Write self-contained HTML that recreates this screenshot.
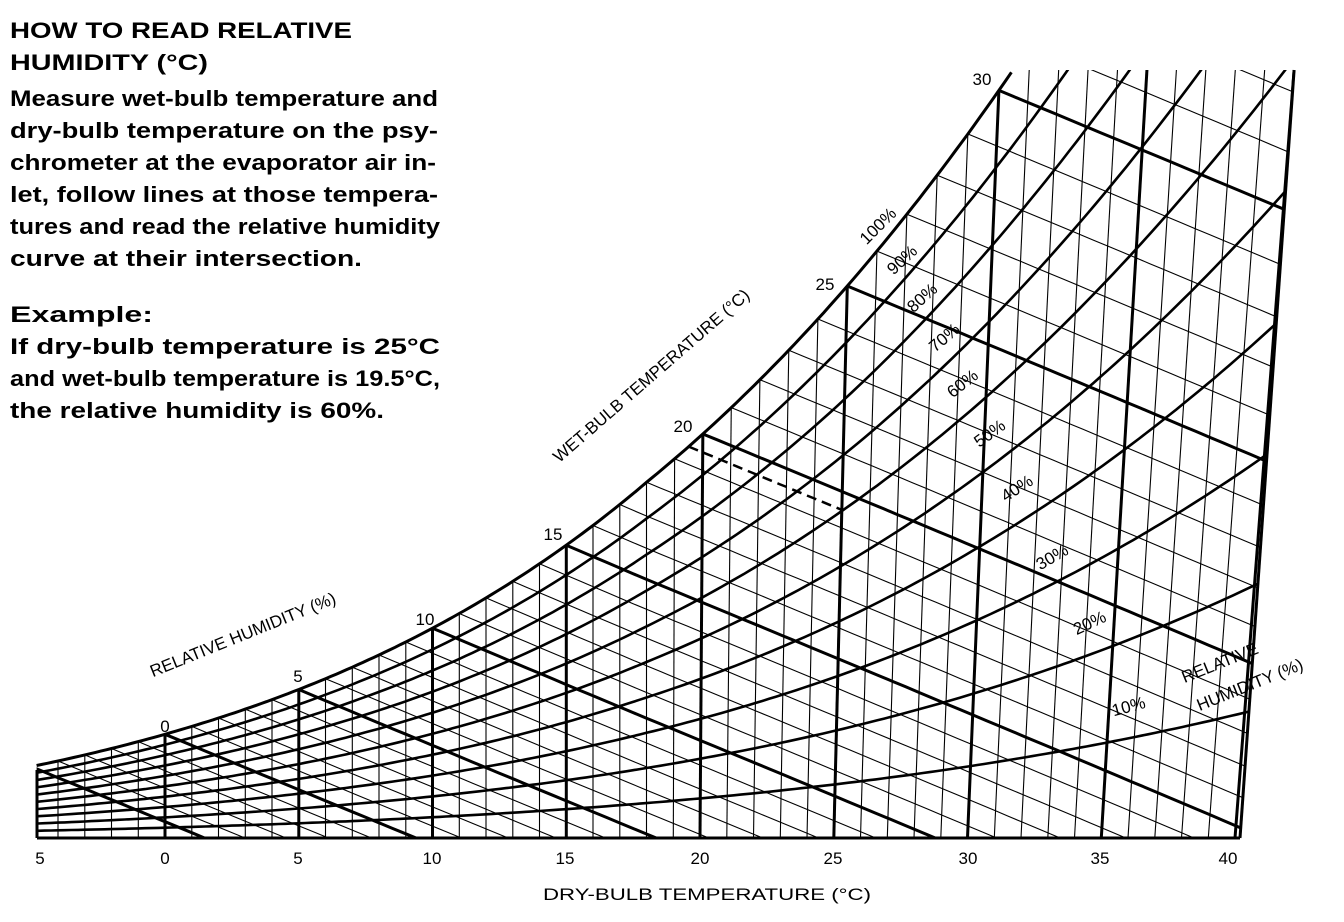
<!DOCTYPE html>
<html><head><meta charset="utf-8"><style>
html,body{margin:0;padding:0;background:#fff;width:1344px;height:922px;overflow:hidden}
svg{display:block}
text{font-family:"Liberation Sans",sans-serif;fill:#000}
.b{font-weight:bold;font-size:22px}
.l{font-size:17px}
</style></head><body>
<svg id="s" width="1344" height="922" viewBox="0 0 1344 922" xmlns="http://www.w3.org/2000/svg">
<defs><clipPath id="cp"><path id="cpp" d=""/></clipPath></defs>
<g id="grid" clip-path="url(#cp)" stroke="#000" fill="none"></g>
<g id="top" stroke="#000" fill="none"></g>
<g class="b">
<text x="10" y="38" textLength="342" lengthAdjust="spacingAndGlyphs">HOW TO READ RELATIVE</text>
<text x="10" y="70" textLength="198" lengthAdjust="spacingAndGlyphs">HUMIDITY (°C)</text>
<text x="10" y="106" textLength="428" lengthAdjust="spacingAndGlyphs">Measure wet-bulb temperature and</text>
<text x="10" y="138" textLength="428" lengthAdjust="spacingAndGlyphs">dry-bulb temperature on the psy-</text>
<text x="10" y="170" textLength="426" lengthAdjust="spacingAndGlyphs">chrometer at the evaporator air in-</text>
<text x="10" y="202" textLength="428" lengthAdjust="spacingAndGlyphs">let, follow lines at those tempera-</text>
<text x="10" y="234" textLength="430" lengthAdjust="spacingAndGlyphs">tures and read the relative humidity</text>
<text x="10" y="266" textLength="352" lengthAdjust="spacingAndGlyphs">curve at their intersection.</text>
<text x="10" y="322" textLength="143" lengthAdjust="spacingAndGlyphs">Example:</text>
<text x="10" y="354" textLength="430" lengthAdjust="spacingAndGlyphs">If dry-bulb temperature is 25°C</text>
<text x="10" y="386" textLength="430" lengthAdjust="spacingAndGlyphs">and wet-bulb temperature is 19.5°C,</text>
<text x="10" y="418" textLength="374" lengthAdjust="spacingAndGlyphs">the relative humidity is 60%.</text>
</g>
<g class="l">
<text x="40" y="864" text-anchor="middle">5</text>
<text x="165" y="864" text-anchor="middle">0</text>
<text x="298" y="864" text-anchor="middle">5</text>
<text x="432" y="864" text-anchor="middle">10</text>
<text x="565" y="864" text-anchor="middle">15</text>
<text x="700" y="864" text-anchor="middle">20</text>
<text x="833" y="864" text-anchor="middle">25</text>
<text x="968" y="864" text-anchor="middle">30</text>
<text x="1100" y="864" text-anchor="middle">35</text>
<text x="1228" y="864" text-anchor="middle">40</text>
<text x="707" y="900" text-anchor="middle" textLength="328" lengthAdjust="spacingAndGlyphs">DRY-BULB TEMPERATURE (°C)</text>
<text x="165" y="732" text-anchor="middle">0</text>
<text x="298" y="682" text-anchor="middle">5</text>
<text x="425" y="625" text-anchor="middle">10</text>
<text x="553" y="540" text-anchor="middle">15</text>
<text x="683" y="432" text-anchor="middle">20</text>
<text x="825" y="290" text-anchor="middle">25</text>
<text x="982" y="85" text-anchor="middle">30</text>
<text transform="translate(655,380) rotate(-41)" text-anchor="middle">WET-BULB TEMPERATURE (°C)</text>
<text transform="translate(245,640) rotate(-22)" text-anchor="middle">RELATIVE HUMIDITY (%)</text>
<text transform="translate(1222,668) rotate(-22)" text-anchor="middle">RELATIVE</text>
<text transform="translate(1252,690) rotate(-22)" text-anchor="middle">HUMIDITY (%)</text>
<text transform="translate(882,230) rotate(-45)" text-anchor="middle">100%</text>
<text transform="translate(906,264) rotate(-43)" text-anchor="middle">90%</text>
<text transform="translate(926,302) rotate(-42)" text-anchor="middle">80%</text>
<text transform="translate(948,342) rotate(-40)" text-anchor="middle">70%</text>
<text transform="translate(966,388) rotate(-38)" text-anchor="middle">60%</text>
<text transform="translate(993,438) rotate(-36)" text-anchor="middle">50%</text>
<text transform="translate(1020,493) rotate(-33)" text-anchor="middle">40%</text>
<text transform="translate(1055,562) rotate(-30)" text-anchor="middle">30%</text>
<text transform="translate(1092,628) rotate(-25)" text-anchor="middle">20%</text>
<text transform="translate(1130,712) rotate(-15)" text-anchor="middle">10%</text>
</g>
</svg>
<script>
(function(){
var NS="http://www.w3.org/2000/svg";
function ps(T){return 0.61078*Math.exp(17.27*T/(T+237.3));}
function ws(T){var p=ps(T);return 0.622*p/(101.325-p);}
function K(T){return Math.max(0,T-18)*0.0035;}
function X(T,y){return 165+26.75*T+K(T)*(838-y);}
function Y(w){return 838-27500*w;}
function pt(T,w){var y=Y(w);return [X(T,y),y];}
function line(g,pts,sw,dash){var p=document.createElementNS(NS,"polyline");
 p.setAttribute("points",pts.map(function(a){return a[0].toFixed(1)+","+a[1].toFixed(1)}).join(" "));
 p.setAttribute("stroke-width",sw);if(dash)p.setAttribute("stroke-dasharray",dash);g.appendChild(p);}
var sat=[];for(var T=-4.8;T<=40;T+=0.2){var q=pt(T,ws(T));if(q[1]<70)break;sat.push(q);}
var last=sat[sat.length-1];
var R=[X(40,70),70];
var poly=[[37,838]].concat(sat);poly.push([last[0],70]);poly.push(R);poly.push([1240,838]);
document.getElementById("cpp").setAttribute("d","M"+poly.map(function(a){return a[0].toFixed(1)+" "+a[1].toFixed(1)}).join(" L")+"Z");
var g=document.getElementById("grid"),top=document.getElementById("top");
for(var T=-4;T<=40;T++){var a=[X(T,838),838],b=[X(T,0),0];line(g,[a,b],T%5==0?3:1.1);}
for(var tw=-5;tw<=42;tw+=1){var pts=[];var w0=ws(tw);
 for(var T=tw;T<=48;T+=0.5){var w=((2501-2.326*tw)*w0-1.006*(T-tw))/(2501+1.86*T-4.186*tw);if(w<-0.001)break;pts.push(pt(T,w));}
 line(g,pts,tw%5==0?3:1.1);}
for(var r=10;r<=90;r+=10){var pts=[];for(var T=-5;T<=45;T+=0.25){var p=ps(T)*r/100;var w=0.622*p/(101.325-p);pts.push(pt(T,w));}line(g,pts,2.6);}
line(top,[[37,838],[1240,838]],3);line(top,[[37,838],[37,770]],3);
line(top,sat,3);line(top,[[1240,838],R],3);
var tw=19.5,w0=ws(tw),pts=[];for(var T=19.5;T<=25;T+=0.25){var w=((2501-2.326*tw)*w0-1.006*(T-tw))/(2501+1.86*T-4.186*tw);pts.push(pt(T,w));}
var end=pts[pts.length-1];
line(top,pts,2.5,"10,6");
line(top,[end,[X(25,838),838]],2.5,"10,6");
})();
</script>
</body></html>
